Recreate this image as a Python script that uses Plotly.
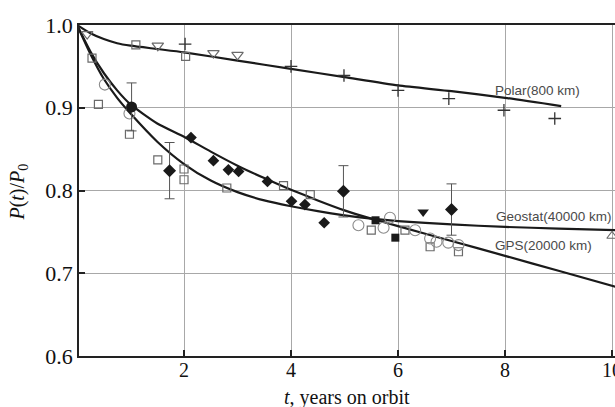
import plotly.graph_objects as go

# ---- fitted curves ----
polar_t = [0, 0.25, 0.5, 0.75, 1.0, 1.5, 2, 3, 4, 5, 6, 7, 8, 9.05]
polar_p = [1.0, 0.990, 0.983, 0.978, 0.975, 0.971, 0.967, 0.957, 0.947, 0.937, 0.927, 0.920, 0.912, 0.902]

gps_t = [0, 0.25, 0.5, 0.75, 1, 1.5, 2, 2.5, 3, 3.5, 4, 4.5, 5, 5.5, 6, 7, 8, 9, 10.1]
gps_p = [1.0, 0.968, 0.942, 0.921, 0.904, 0.881, 0.865, 0.847, 0.830, 0.815, 0.801, 0.788, 0.776, 0.766,
         0.757, 0.739, 0.721, 0.703, 0.683]

geo_t = [0, 0.25, 0.5, 0.75, 1, 1.5, 2, 2.5, 3, 3.5, 4, 4.5, 5, 5.5, 6, 7, 8, 9, 10.1]
geo_p = [1.0, 0.965, 0.935, 0.912, 0.893, 0.859, 0.832, 0.812, 0.798, 0.788, 0.781, 0.775, 0.770, 0.766,
         0.763, 0.759, 0.756, 0.754, 0.752]

# ---- measured points ----
plus_t = [2.02, 4.0, 4.99, 6.0, 6.95, 7.98, 8.93]
plus_p = [0.977, 0.950, 0.939, 0.921, 0.911, 0.897, 0.887]

tri_open_t = [0.19, 1.51, 2.55, 3.0]
tri_open_p = [0.989, 0.975, 0.966, 0.964]

sq_open_t = [0.28, 0.40, 0.98, 1.10, 1.51, 2.0, 2.0, 2.03, 2.80, 3.86, 4.36, 5.50, 6.13, 6.60, 7.13]
sq_open_p = [0.960, 0.904, 0.868, 0.976, 0.837, 0.826, 0.813, 0.962, 0.803, 0.806, 0.795, 0.752, 0.752,
             0.732, 0.726]

circ_open_t = [0.52, 0.98, 5.26, 5.73, 5.85, 6.32, 6.60, 6.72, 6.94, 7.13]
circ_open_p = [0.928, 0.893, 0.758, 0.755, 0.767, 0.752, 0.742, 0.738, 0.737, 0.734]

dia_t = [2.13, 2.55, 2.83, 3.02, 3.56, 4.01, 4.26, 4.62]
dia_p = [0.864, 0.836, 0.825, 0.823, 0.811, 0.787, 0.783, 0.761]

dia_err_t = [1.73, 4.98, 7.0]
dia_err_p = [0.824, 0.799, 0.777]
dia_err_e = [0.034, 0.031, 0.031]

circ_fill_t = [1.02]
circ_fill_p = [0.901]
circ_fill_e = [0.029]

sq_fill_t = [5.58, 5.95]
sq_fill_p = [0.764, 0.743]

tri_fill_t = [6.47]
tri_fill_p = [0.774]

tri_edge_t = [10.0]
tri_edge_p = [0.745]

x_ticks = [2, 4, 6, 8, 10]
y_ticks = [0.6, 0.7, 0.8, 0.9, 1.0]
y_tick_labels = ["0.6", "0.7", "0.8", "0.9", "1.0"]

curve_labels = ["Polar(800 km)", "Geostat(40000 km)", "GPS(20000 km)"]
label_t = [7.78, 7.80, 7.78]
label_p = [0.921, 0.769, 0.733]

fig = go.Figure()

line_style = dict(color="#1a1a1a", width=2.2, shape="spline", smoothing=0.6)
for tt, pp in [(polar_t, polar_p), (gps_t, gps_p), (geo_t, geo_p)]:
    fig.add_trace(go.Scatter(x=tt, y=pp, mode="lines", line=line_style, hoverinfo="skip"))

grey = "#6a6a6a"
fig.add_trace(go.Scatter(x=plus_t, y=plus_p, mode="markers",
                         marker=dict(symbol="cross-thin", size=9, line=dict(color="#333", width=1.3))))
fig.add_trace(go.Scatter(x=tri_open_t, y=tri_open_p, mode="markers",
                         marker=dict(symbol="triangle-down-open", size=10, color=grey, line=dict(width=1.2))))
fig.add_trace(go.Scatter(x=sq_open_t, y=sq_open_p, mode="markers",
                         marker=dict(symbol="square-open", size=8, color=grey, line=dict(width=1.2))))
fig.add_trace(go.Scatter(x=circ_open_t, y=circ_open_p, mode="markers",
                         marker=dict(symbol="circle-open", size=11, color="#8a8a8a", line=dict(width=1.1))))
fig.add_trace(go.Scatter(x=dia_t, y=dia_p, mode="markers",
                         marker=dict(symbol="diamond", size=9, color="#1a1a1a")))
fig.add_trace(go.Scatter(x=dia_err_t, y=dia_err_p, mode="markers",
                         error_y=dict(type="data", array=dia_err_e, color="#555", thickness=1, width=5),
                         marker=dict(symbol="diamond", size=10, color="#1a1a1a")))
fig.add_trace(go.Scatter(x=circ_fill_t, y=circ_fill_p, mode="markers",
                         error_y=dict(type="data", array=circ_fill_e, color="#555", thickness=1, width=5),
                         marker=dict(symbol="circle", size=11, color="#1a1a1a")))
fig.add_trace(go.Scatter(x=sq_fill_t, y=sq_fill_p, mode="markers",
                         marker=dict(symbol="square", size=8, color="#1a1a1a")))
fig.add_trace(go.Scatter(x=tri_fill_t, y=tri_fill_p, mode="markers",
                         marker=dict(symbol="triangle-down", size=10, color="#1a1a1a")))
fig.add_trace(go.Scatter(x=tri_edge_t, y=tri_edge_p, mode="markers", cliponaxis=False,
                         marker=dict(symbol="triangle-up-open", size=9, color=grey, line=dict(width=1.1))))

for txt, tx, ty in zip(curve_labels, label_t, label_p):
    fig.add_annotation(x=tx, y=ty, text=txt, showarrow=False, xanchor="left", yanchor="middle",
                       font=dict(family="Liberation Sans, Arial", size=13.5, color="#4a4a4a"))

serif = "Liberation Serif, Times New Roman, serif"
fig.add_annotation(xref="paper", yref="paper", x=0.5, y=-0.124, xanchor="center", yanchor="middle",
                   text="<i>t</i>, years on orbit", showarrow=False,
                   font=dict(family=serif, size=20, color="#111"))
fig.add_annotation(xref="paper", yref="paper", x=-0.113, y=0.495, xanchor="center", yanchor="middle",
                   text="<i>P</i>(<i>t</i>)/<i>P</i><sub>0</sub>", textangle=-90, showarrow=False,
                   font=dict(family=serif, size=20, color="#111"))

fig.update_layout(
    width=615, height=407,
    margin=dict(l=79, r=0, t=25, b=51, autoexpand=False),
    paper_bgcolor="white", plot_bgcolor="white",
    showlegend=False,
    xaxis=dict(range=[0.037, 10.056], tickvals=x_ticks, ticks="inside", ticklen=6, tickwidth=1.5,
               tickcolor="#222", showline=True, linecolor="#222", linewidth=1.6, mirror=True,
               showgrid=True, gridcolor="#a8a8a8", gridwidth=1, zeroline=False,
               ticklabeloverflow="allow", automargin=False, ticklabelstandoff=-5,
               tickfont=dict(family=serif, size=20, color="#111")),
    yaxis=dict(range=[0.6, 1.0], tickvals=y_ticks, ticktext=y_tick_labels, ticks="inside", ticklen=6,
               tickwidth=1.5, tickcolor="#222", showline=True, linecolor="#222", linewidth=1.6,
               showgrid=True, gridcolor="#a8a8a8", gridwidth=1, zeroline=False, automargin=False,
               tickfont=dict(family=serif, size=22, color="#111")),
)

fig.write_html("out.html", config={"displayModeBar": False},
               post_script="document.body.style.margin='0px';document.body.style.overflow='hidden';")
